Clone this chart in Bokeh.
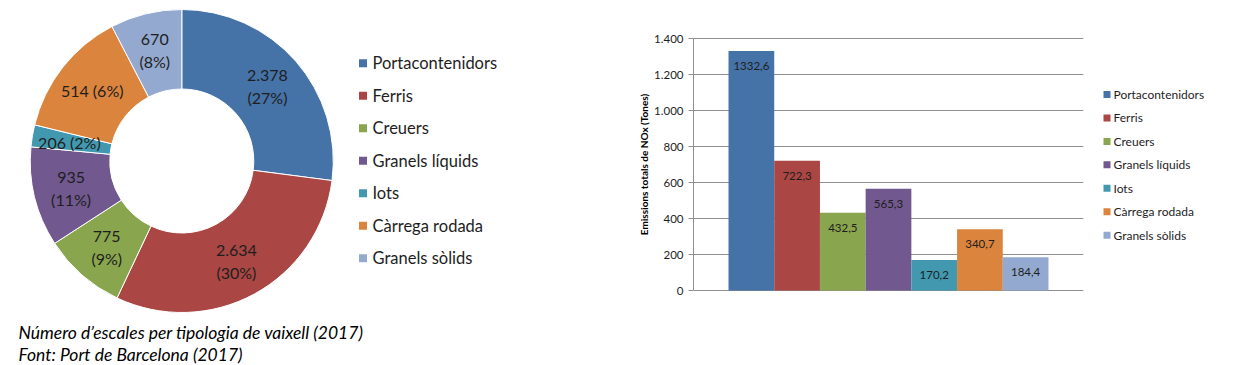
import math
from bokeh.plotting import figure
from bokeh.layouts import row
from bokeh.models import Range1d, ColumnDataSource, FixedTicker
from bokeh.core.properties import value
from bokeh.embed import file_html
from bokeh.resources import INLINE

# ---------------- data ----------------
categories = ["Portacontenidors", "Ferris", "Creuers", "Granels líquids",
              "Iots", "Càrrega rodada", "Granels sòlids"]
colors = ["#4572A7", "#AA4643", "#89A54E", "#71588F", "#4198AF", "#DB843D", "#93A9CF"]

# donut: number of calls (labels as printed) and share of the circle as drawn
calls_label = ["2.378", "2.634", "775", "935", "206", "514", "670"]
calls_pct = [27, 30, 9, 11, 2, 6, 8]
slice_size = [2378, 2634, 775, 935, 206, 1190, 670]   # angular size
two_line = [True, True, True, True, False, False, True]

# bars: total NOx emissions (tonnes)
nox = [1332.6, 722.3, 432.5, 565.3, 170.2, 340.7, 184.4]
y_ticks = [0, 200, 400, 600, 800, 1000, 1200, 1400]
y_tick_labels = ["0", "200", "400", "600", "800", "1.000", "1.200", "1.400"]

caption = ["Número d’escales per tipologia de vaixell (2017)",
           "Font: Port de Barcelona (2017)"]
y_title = "Emissions totals de NOx (Tones)"

FONT = "Lato"
TXT = "#1e1e1e"
PAGE_H = 365
GRID = "#8f8f8f"


def blank_fig(x0, x1):
    f = figure(width=x1 - x0, height=PAGE_H, output_backend="svg", toolbar_location=None,
               x_range=Range1d(x0, x1), y_range=Range1d(0, PAGE_H),
               x_axis_location=None, y_axis_location=None,
               min_border=0, outline_line_color=None)
    f.grid.visible = False
    return f


def Y(py):
    return PAGE_H - py


# ---------------- left: donut ----------------
left = blank_fig(0, 650)
cx, cy, r_out, r_in = 181.3, 160.5, 151.5, 72
total = sum(slice_size)
starts, ends, mids = [], [], []
acc = 0
for s in slice_size:
    a0 = math.pi / 2 - 2 * math.pi * acc / total
    acc += s
    a1 = math.pi / 2 - 2 * math.pi * acc / total
    starts.append(a0); ends.append(a1); mids.append((a0 + a1) / 2)

src = ColumnDataSource(dict(start=starts, end=ends, color=colors))
left.annular_wedge(x=cx, y=Y(cy), inner_radius=r_in, outer_radius=r_out,
                   start_angle="start", end_angle="end", direction="clock",
                   fill_color="color", line_color="white", line_width=1, source=src)

r_lab = 114
lab_txt = [f"{v}\n({p}%)" if t else f"{v} ({p}%)"
           for v, p, t in zip(calls_label, calls_pct, two_line)]
lab_x = [cx + r_lab * math.cos(m) for m in mids]
lab_y = [Y(cy) + r_lab * math.sin(m) for m in mids]
left.text(x=lab_x, y=lab_y, text=lab_txt, text_align="center", text_baseline="middle",
          text_font=value(FONT), text_font_size="16px", text_color=TXT,
          text_line_height=1.2)

# left legend
lg_y = [Y(62.7 + 32.5 * i) for i in range(len(categories))]
left.rect(x=[362.5] * len(categories), y=lg_y, width=8, height=8,
          width_units="screen", height_units="screen", fill_color=colors, line_color=None)
left.text(x=[372] * len(categories), y=lg_y, text=categories, text_align="left",
          text_baseline="middle", text_font=value(FONT), text_font_size="16.5px",
          text_color=TXT)

# caption
left.text(x=[18, 18], y=[Y(332), Y(354)], text=caption, text_align="left",
          text_baseline="middle", text_font=value(FONT), text_font_size="17.5px",
          text_font_style="italic", text_color="#000000")

# y-axis title of the bar chart (rotated)
left.text(x=[643], y=[Y(164)], text=[y_title], angle=math.pi / 2,
          text_align="center", text_baseline="middle", text_font=value(FONT),
          text_font_size="10px", text_font_style="bold", text_color="#000000")

# ---------------- middle: bar chart ----------------
px_per_unit = (290 - 38.3) / 1400
bars = figure(width=445, height=PAGE_H, output_backend="svg", toolbar_location=None,
              x_range=Range1d(-1.266, 7.266),
              y_range=Range1d(-(PAGE_H - 290) / px_per_unit, 1400 + 38.3 / px_per_unit),
              x_axis_location=None,
              min_border_left=43, min_border_right=12, min_border_top=0,
              min_border_bottom=0, outline_line_color=None)
xs = list(range(len(categories)))
bars.vbar(x=xs, top=nox, width=1.0, fill_color=colors, line_color=None)
bars.text(x=xs, y=nox, text=[f"{v:.1f}".replace(".", ",") for v in nox],
          text_align="center", text_baseline="middle", y_offset=15,
          text_font=value(FONT), text_font_size="11.5px", text_color=TXT)

bars.xgrid.visible = False
bars.ygrid.ticker = FixedTicker(ticks=y_ticks)
bars.ygrid.grid_line_color = GRID
bars.ygrid.grid_line_width = 1
bars.ygrid.level = "underlay"
ya = bars.yaxis[0]
ya.ticker = FixedTicker(ticks=y_ticks)
ya.bounds = (0, 1400)
ya.major_label_overrides = {t: l for t, l in zip(y_ticks, y_tick_labels)}
ya.major_label_text_font = FONT
ya.major_label_text_font_size = "11.5px"
ya.major_label_text_color = TXT
ya.major_tick_out = 5
ya.major_tick_in = 0
ya.minor_tick_out = 0
ya.minor_tick_in = 0
ya.major_label_standoff = 5
ya.axis_line_color = GRID
ya.major_tick_line_color = GRID

# ---------------- right: bar legend ----------------
leg = blank_fig(1095, 1225)
rg_y = [Y(94 + 23.45 * i) for i in range(len(categories))]
leg.rect(x=[1106.5] * len(categories), y=rg_y, width=7, height=7,
         width_units="screen", height_units="screen", fill_color=colors, line_color=None)
leg.text(x=[1113] * len(categories), y=rg_y, text=categories, text_align="left",
         text_baseline="middle", text_font=value(FONT), text_font_size="12px",
         text_color=TXT)

layout = row(left, bars, leg, spacing=0)
open("out.html", "w").write(file_html(layout, INLINE))
